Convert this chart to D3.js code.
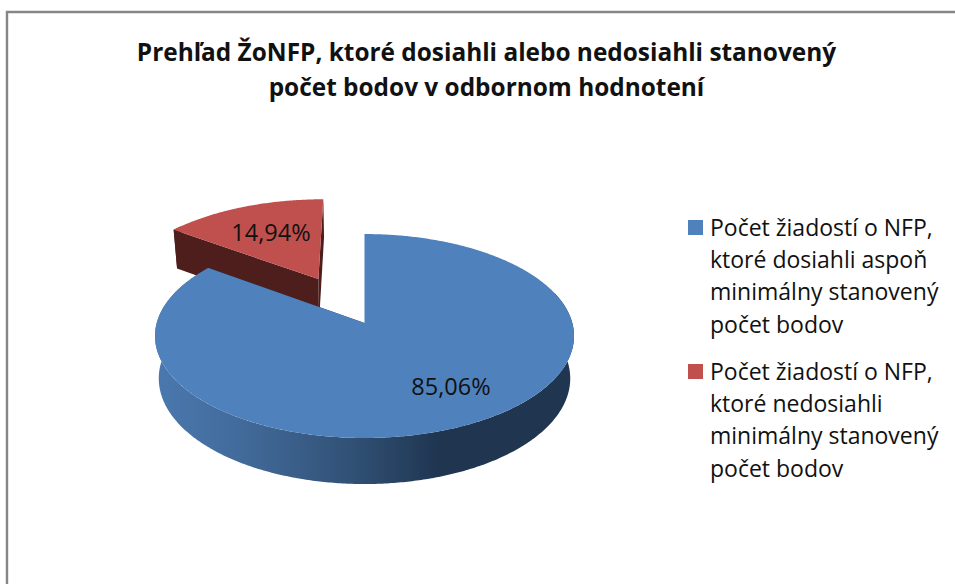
<!DOCTYPE html>
<html><head><meta charset="utf-8">
<script src="https://cdn.jsdelivr.net/npm/d3@7"></script>
<style>html,body{margin:0;padding:0;background:#fff}svg{display:block}text{font-family:"Open Sans",Lato,sans-serif;fill:#111}</style>
</head><body><div id="c"></div>
<script>
const categories = ["Počet žiadostí o NFP, ktoré dosiahli aspoň minimálny stanovený počet bodov","Počet žiadostí o NFP, ktoré nedosiahli minimálny stanovený počet bodov"];
const legendLines = [["Počet žiadostí o NFP,","ktoré dosiahli aspoň","minimálny stanovený","počet bodov"],["Počet žiadostí o NFP,","ktoré nedosiahli","minimálny stanovený","počet bodov"]];
const values = [85.06, 14.94];
const valueLabels = ["85,06%","14,94%"];
const colors = ["#4f81bd","#c0504d"];
const titleLines = ["Prehľad ŽoNFP, ktoré dosiahli alebo nedosiahli stanovený","počet bodov v odbornom hodnotení"];
const explode = [0, 0.52];

const W=955,H=584, cx=364.5, cy=323, A=207.8, B=100.3, k=0.1275, h=42, shrink=0.982;
const svg=d3.select("#c").append("svg").attr("width",W).attr("height",H);
const defs=svg.append("defs");
const grad=defs.append("linearGradient").attr("id","side").attr("gradientUnits","userSpaceOnUse")
  .attr("x1",156).attr("x2",575).attr("y1",0).attr("y2",0);
[[0,"#4a78ae"],[0.2,"#426b9b"],[0.45,"#325378"],[0.68,"#1f3550"],[1,"#1f3550"]].forEach(s=>grad.append("stop").attr("offset",s[0]).attr("stop-color",s[1]));

// border
svg.append("path").attr("d",`M7,${H} V12 H${W}`).attr("fill","none").attr("stroke","#868686").attr("stroke-width",2.4);

// title
svg.selectAll("text.t").data(titleLines).join("text").attr("class","t")
  .attr("x",486.5).attr("y",(d,i)=>60.5+i*35.5).attr("text-anchor","middle")
  .attr("font-weight",700).attr("font-size",24.4).text(d=>d);

const pieGen=d3.pie().sort(null);
const arcs=pieGen(values);
function proj(a,r,e,bis,low){
  const u=r*Math.sin(a)+e*Math.sin(bis), v=-r*Math.cos(a)-e*Math.cos(bis);
  const w=1-k*v, s=low?shrink:1;
  return [cx+A*u*s/w, cy+B*v*s/w+(low?h/w:0)];
}
const line=d3.line();
function sample(a0,a1){const n=Math.max(2,Math.ceil(Math.abs(a1-a0)/0.01));return d3.range(n+1).map(i=>a0+(a1-a0)*i/n);}

const g=svg.append("g");
[1,0].forEach(i=>{
  const d=arcs[i], e=explode[i], bis=(d.startAngle+d.endAngle)/2;
  const side=i===0?"url(#side)":"#4d1e1c", wall=i===0?"#1f3550":"#4d1e1c";
  [d.startAngle,d.endAngle].forEach(a=>{
    const pts=[proj(a,1,e,bis,false),proj(0,0,e,bis,false),proj(0,0,e,bis,true),proj(a,1,e,bis,true)];
    g.append("path").attr("d",line(pts)+"Z").attr("fill",wall);
  });
  const a0=Math.max(d.startAngle,Math.PI*0.4), a1=Math.min(d.endAngle,Math.PI*1.72);
  if(a1>a0){
    const s=sample(a0,a1);
    const pts=s.map(a=>proj(a,1,e,bis,false)).concat(s.slice().reverse().map(a=>proj(a,1,e,bis,true)));
    g.append("path").attr("d",line(pts)+"Z").attr("fill",side);
  }
  const pts=[proj(0,0,e,bis,false)].concat(sample(d.startAngle,d.endAngle).map(a=>proj(a,1,e,bis,false)));
  g.append("path").attr("d",line(pts)+"Z").attr("fill",colors[i]);
});

// data labels
const labelPos=[[451,395],[271,240.5]];
svg.selectAll("text.l").data(valueLabels).join("text").attr("class","l")
  .attr("x",(d,i)=>labelPos[i][0]).attr("y",(d,i)=>labelPos[i][1]).attr("text-anchor","middle")
  .attr("font-size",23.5).text(d=>d);

// legend
const legendTop=[235.5,379.5];
legendLines.forEach((ls,i)=>{
  svg.append("rect").attr("x",688).attr("y",legendTop[i]-15.5).attr("width",15).attr("height",15).attr("fill",colors[i]);
  ls.forEach((t,j)=>svg.append("text").attr("x",710).attr("y",legendTop[i]+j*32.4).attr("font-size",23).text(t));
});
</script></body></html>
